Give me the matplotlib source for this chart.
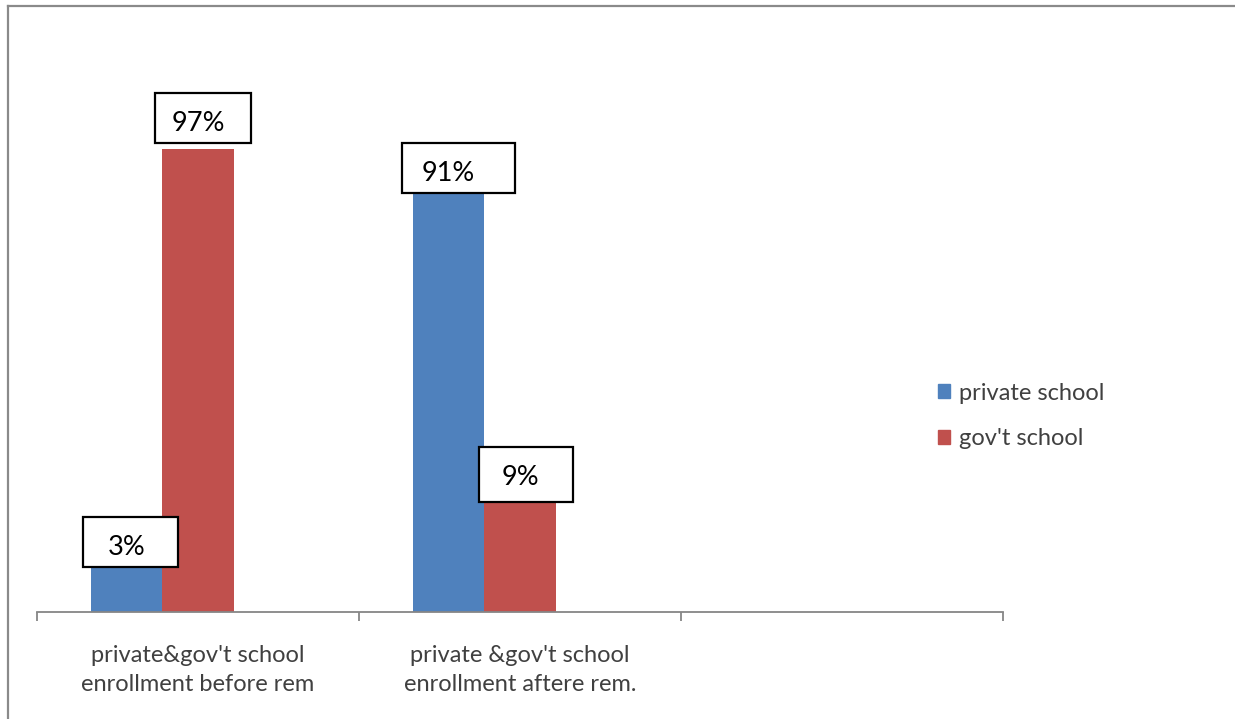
import matplotlib
matplotlib.use('Agg')
import matplotlib.pyplot as plt
from matplotlib.lines import Line2D
from matplotlib.patches import Rectangle
import numpy as np

# data
categories = ["private&gov't school\nenrollment before rem",
              "private &gov't school\nenrollment aftere rem.",
              ""]
series_names = ['private school', "gov't school"]
# bar heights as drawn (percent scale), the printed labels differ a bit
private_vals = [12, 91]
govt_vals = [97, 28]
private_labels = ['3%', '91%']
govt_labels = ['97%', '9%']

blue = '#4F81BD'
red = '#C0504D'
axis_gray = '#868686'
text_gray = '#404040'

plt.rcParams['font.family'] = ['Lato', 'DejaVu Sans']

fig = plt.figure(figsize=(12.35, 7.19), dpi=100)
ax = fig.add_axes([37/1235, 107/719, 966/1235, 477/719])

w = 0.222
x = np.arange(len(private_vals))
ax.bar(x + 0.5 - w, private_vals, width=w, color=blue, label=series_names[0])
ax.bar(x + 0.5, govt_vals, width=w, color=red, label=series_names[1])

ax.set_xlim(0, len(categories))
ax.set_ylim(0, 100)

# label boxes (placed by hand in the original, so offsets per label)
# (bar x, text y, box dx, box bottom, box width, box height)
label_layout = [
    (0.5 - w, 13.6, 0.012, 9.4, 0.295, 10.5),
    (1.5 - w, 92.0, 0.031, 87.8, 0.351, 10.5),
    (0.5, 102.4, 0.016, 98.3, 0.298, 10.5),
    (1.5, 28.3, 0.019, 23.1, 0.292, 11.5),
]
all_labels = private_labels + govt_labels
for txt, (bx, ty, dx, bb, bw, bh) in zip(all_labels, label_layout):
    ax.add_patch(Rectangle((bx + dx - bw/2, bb), bw, bh, facecolor='white',
                           edgecolor='black', linewidth=1.6, clip_on=False, zorder=3))
    ax.text(bx, ty, txt, ha='center', va='center', fontsize=19.5, color='black',
            zorder=4, clip_on=False)

for s in ['top', 'right', 'left']:
    ax.spines[s].set_visible(False)
ax.spines['bottom'].set_color(axis_gray)
ax.spines['bottom'].set_linewidth(1.3)
ax.set_yticks([])
ax.set_xticks(np.arange(len(categories) + 1))
ax.set_xticklabels([])
ax.tick_params(axis='x', which='major', direction='out', length=6.5,
               width=1.3, color=axis_gray)
ax.set_xticks(np.arange(len(categories)) + 0.5, minor=True)
ax.set_xticklabels(categories, minor=True, fontsize=17, color=text_gray,
                   linespacing=1.47)
ax.tick_params(axis='x', which='minor', length=0, pad=24)

handles = [Rectangle((0, 0), 1, 1, color=blue), Rectangle((0, 0), 1, 1, color=red)]
fig.legend(handles, series_names, loc='center left',
           bbox_to_anchor=(938/1235, 1 - 416/719), frameon=False,
           fontsize=17, labelcolor=text_gray, handlelength=0.52,
           handleheight=0.52, handletextpad=0.35, labelspacing=1.04,
           borderpad=0, borderaxespad=0)

# outer chart frame (only top and left edges show)
fig.add_artist(Line2D([8/1235, 8/1235], [1 - 6/719, 0], transform=fig.transFigure,
                      color='#8a8a8a', linewidth=1.6))
fig.add_artist(Line2D([8/1235, 1], [1 - 6/719, 1 - 6/719], transform=fig.transFigure,
                      color='#8a8a8a', linewidth=1.6))

fig.savefig('out.png', dpi=100)
